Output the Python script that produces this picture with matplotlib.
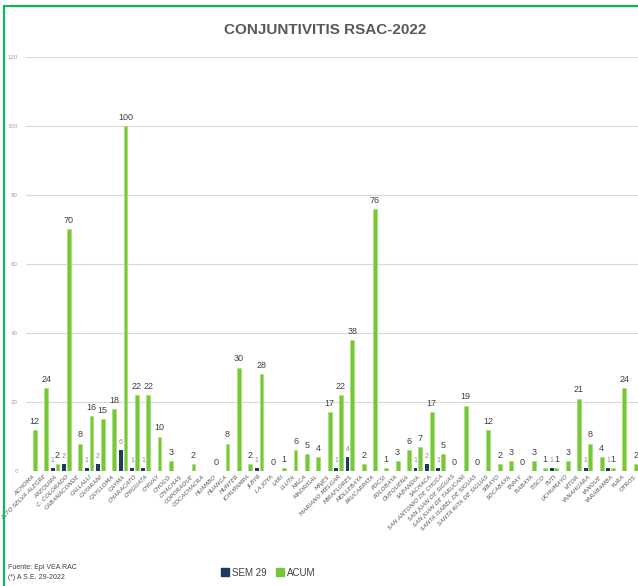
import numpy as np
import matplotlib
matplotlib.use("Agg")
import matplotlib.pyplot as plt
from matplotlib.lines import Line2D
from matplotlib.patches import Patch

districts = ["ACHOMA", "ALTO SELVA ALEGRE", "AREQUIPA", "C. COLORADO", "CABANACONDE",
             "CALLALLI", "CAYARANI", "CAYLLOMA", "CAYMA", "CHARACATO", "CHIGUATA",
             "CHIVAY", "CHOCO", "CHACHAS", "COPORAQUE", "COCACHACRA", "HUAMBO", "HUANCA",
             "HUNTER", "ICHUPAMPA", "JLBYR", "LA JOYA", "LARI", "LLUTA", "MACA",
             "MADRIGAL", "MAJES", "MARIANO MELGAR", "MIRAFLORES", "MOLLEBAYA",
             "PAUCARPATA", "POCSI", "POLOBAYA", "QUEQUEÑA", "SABANDIA", "SACHACA",
             "SAN ANTONIO DE CHUCA", "SAN JUAN DE SIGUAS", "SAN JUAN DE TARUCANI",
             "SANTA ISABEL DE SIGUAS", "SANTA RITA DE SIGUAS", "SIBAYO", "SOCABAYA",
             "TAPAY", "TIABAYA", "TISCO", "TUTI", "UCHUMAYO", "VITOR", "YANAHUARA",
             "YANQUE", "YARABAMBA", "YURA", "OTROS"]

# semana 29 (None = sin casos / sin etiqueta)
sem29 = [None, None, 1, 2, None, 1, 2, None, 6, 1, 1, None, None, None, None, None,
         None, None, None, None, 1, None, None, None, None, None, None, 1, 4, None,
         None, None, None, None, 1, 2, 1, None, None, None, None, None, None, None,
         None, None, 1, None, None, 1, None, 1, None, None]

# acumulado
acum = [12, 24, 2, 70, 8, 16, 15, 18, 100, 22, 22, 10, 3, None, 2, None, 0, 8, 30, 2,
        28, 0, 1, 6, 5, 4, 17, 22, 38, 2, 76, 1, 3, 6, 7, 17, 5, 0, 19, 0, 12, 2, 3,
        0, 3, 1, 1, 3, 21, 8, 4, 1, 24, 2]

yticks = [0, 20, 40, 60, 80, 100, 120]

navy = "#1F3A5F"
green = "#76C83A"

fig = plt.figure(figsize=(6.38, 5.86), dpi=100)
ax = fig.add_axes([0.0408, 0.196, 0.9626, 0.707])

x = np.arange(len(districts))
w = 0.34
off = 0.21
sem_vals = [v if v is not None else 0 for v in sem29]
acum_vals = [v if v is not None else 0 for v in acum]
ax.bar(x - off, sem_vals, w, color=navy, zorder=3)
ax.bar(x + off, acum_vals, w, color=green, edgecolor="#A6E070", linewidth=0.5, zorder=3)

for i, v in enumerate(sem29):
    if v is not None:
        ax.annotate(str(v), (x[i] - off, v), xytext=(0, 3), textcoords="offset points",
                    ha="center", va="bottom", fontsize=5, color="#8a8a8a",
                    family="Liberation Sans")
for i, v in enumerate(acum):
    if v is not None:
        ax.annotate(str(v), (x[i] + off, v), xytext=(0, 3), textcoords="offset points",
                    ha="center", va="bottom", fontsize=6.5, color="#404040",
                    family="Liberation Sans")

ax.set_ylim(0, 120)
ax.set_xlim(-0.56, 53.6)
ax.set_yticks(yticks)
ax.set_yticklabels([str(t) for t in yticks], fontsize=4, color="#a0a0a0")
ax.set_xticks(x)
ax.set_xticklabels(districts, rotation=45, ha="right", rotation_mode="anchor",
                   fontsize=4.3, color="#595959", style="italic")
ax.tick_params(axis="both", length=0, pad=2)
ax.tick_params(axis="y", pad=6)
ax.grid(axis="y", color="#d9d9d9", linewidth=0.8, zorder=0)
for s in ax.spines.values():
    s.set_visible(False)

fig.text(0.51, 0.948, "CONJUNTIVITIS RSAC-2022", ha="center", va="center",
         fontsize=11, fontweight="bold", color="#595959", family="Liberation Sans")

handles = [Patch(color=navy, label="SEM 29"), Patch(color=green, label="ACUM")]
fig.legend(handles=handles, loc="center", bbox_to_anchor=(0.42, 0.023), ncol=2,
           frameon=False, fontsize=7, handlelength=0.8, handleheight=0.8,
           handletextpad=0.3, columnspacing=1.0, labelcolor="#404040",
           prop={"family": "Liberation Sans", "size": 7})

fig.text(0.013, 0.032, "Fuente: Epi VEA RAC", fontsize=5, color="#404040",
         family="Liberation Sans", va="center")
fig.text(0.013, 0.015, "(*) A S.E. 29-2022", fontsize=5, color="#404040",
         family="Liberation Sans", va="center")

# marco verde
fig.add_artist(Line2D([4 / 638, 4 / 638], [0, 1 - 6 / 586], color="#00C050",
                      linewidth=1.5, transform=fig.transFigure))
fig.add_artist(Line2D([4 / 638, 1], [1 - 6 / 586, 1 - 6 / 586], color="#00C050",
                      linewidth=1.5, transform=fig.transFigure))

fig.savefig("out.png", dpi=100)
